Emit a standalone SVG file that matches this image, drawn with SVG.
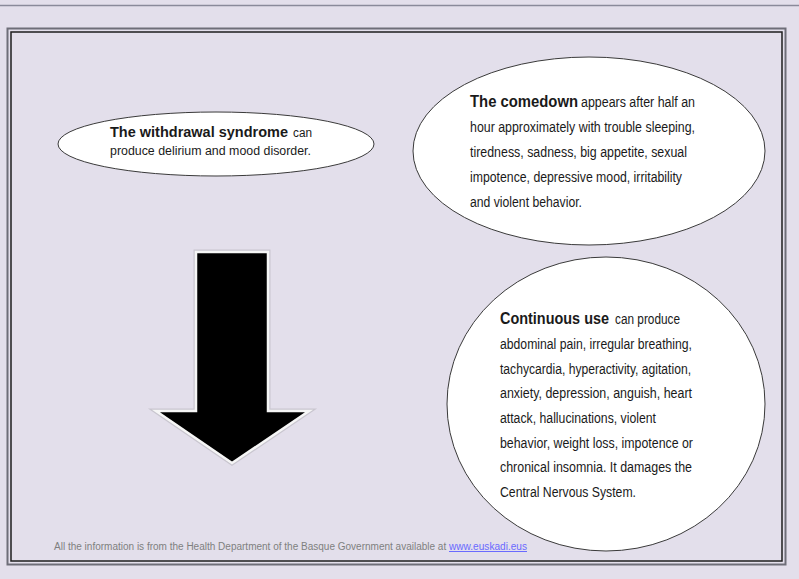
<svg xmlns="http://www.w3.org/2000/svg" width="799" height="579" viewBox="0 0 799 579">
<style>
.bg{fill:#e3dfeb}
.ell{fill:#ffffff;stroke:#3a3a3a;stroke-width:1}
.t{font-family:"Liberation Sans",Arial,sans-serif;fill:#1a1a1a}
.b{font-weight:bold;font-size:16px}
.r{font-size:14px}
.foot{font-family:"Liberation Sans",Arial,sans-serif;font-size:10px;fill:#7f7f7f}
.link{fill:#6a6aff;text-decoration:underline}
</style>
<rect class="bg" x="0" y="0" width="799" height="579"/>
<line x1="0" y1="5.5" x2="799" y2="5.5" stroke="#8a8a9a" stroke-width="1.5"/>
<g id="frame">
<rect x="7.5" y="28.5" width="778" height="536" fill="none" stroke="#6e6e78" stroke-width="2"/>
<rect x="11" y="32" width="771" height="529" fill="none" stroke="#1e1e1e" stroke-width="1.5"/>
</g>
<g id="withdrawal">
<ellipse class="ell" cx="216" cy="144" rx="158" ry="32"/>
<text class="t" x="110" y="136.5" style="font-size:15px;font-weight:bold" textLength="178" lengthAdjust="spacingAndGlyphs">The withdrawal syndrome</text>
<text class="t" x="293" y="136.5" style="font-size:12.5px" textLength="19" lengthAdjust="spacingAndGlyphs">can</text>
<text class="t" x="110" y="154.5" style="font-size:12.5px" textLength="201" lengthAdjust="spacingAndGlyphs">produce delirium and mood disorder.</text>
</g>
<g id="comedown">
<ellipse class="ell" cx="589" cy="151" rx="176" ry="94"/>
<text class="t" y="107"><tspan class="b" x="470" textLength="108" lengthAdjust="spacingAndGlyphs">The comedown</tspan><tspan class="r" x="581" textLength="114" lengthAdjust="spacingAndGlyphs">appears after half an</tspan></text>
<text class="t r" x="470" y="132" textLength="225" lengthAdjust="spacingAndGlyphs">hour approximately with trouble sleeping,</text>
<text class="t r" x="470" y="157" textLength="217" lengthAdjust="spacingAndGlyphs">tiredness, sadness, big appetite, sexual</text>
<text class="t r" x="470" y="182" textLength="212" lengthAdjust="spacingAndGlyphs">impotence, depressive mood, irritability</text>
<text class="t r" x="470" y="207" textLength="112" lengthAdjust="spacingAndGlyphs">and violent behavior.</text>
</g>
<g id="continuous">
<ellipse class="ell" cx="606" cy="404" rx="159" ry="147"/>
<text class="t" y="324"><tspan class="b" x="500" textLength="109" lengthAdjust="spacingAndGlyphs">Continuous use</tspan><tspan class="r" x="615" textLength="65" lengthAdjust="spacingAndGlyphs">can produce</tspan></text>
<text class="t r" x="500" y="349" textLength="192" lengthAdjust="spacingAndGlyphs">abdominal pain, irregular breathing,</text>
<text class="t r" x="500" y="373.5" textLength="191" lengthAdjust="spacingAndGlyphs">tachycardia, hyperactivity, agitation,</text>
<text class="t r" x="500" y="398" textLength="192" lengthAdjust="spacingAndGlyphs">anxiety, depression, anguish, heart</text>
<text class="t r" x="500" y="423" textLength="156" lengthAdjust="spacingAndGlyphs">attack, hallucinations, violent</text>
<text class="t r" x="500" y="447.5" textLength="193" lengthAdjust="spacingAndGlyphs">behavior, weight loss, impotence or</text>
<text class="t r" x="500" y="472" textLength="192" lengthAdjust="spacingAndGlyphs">chronical insomnia. It damages the</text>
<text class="t r" x="500" y="497" textLength="136" lengthAdjust="spacingAndGlyphs">Central Nervous System.</text>
</g>
<g id="arrow">
<path d="M196,252 L268,252 L268,411 L309,411 L232,463 L156,411 L196,411 Z" fill="none" stroke="#c9c6cf" stroke-width="5" stroke-linejoin="miter"/>
<path d="M196,252 L268,252 L268,411 L309,411 L232,463 L156,411 L196,411 Z" fill="#000000" stroke="#f6f6f6" stroke-width="2.5" stroke-linejoin="miter"/>
</g>
<g id="footer">
<text class="foot" y="550"><tspan x="54" textLength="395" lengthAdjust="spacingAndGlyphs">All the information is from the Health Department of the  Basque Government available at </tspan><tspan class="link" x="449" textLength="78" lengthAdjust="spacingAndGlyphs">www.euskadi.eus</tspan></text>
</g>
</svg>
